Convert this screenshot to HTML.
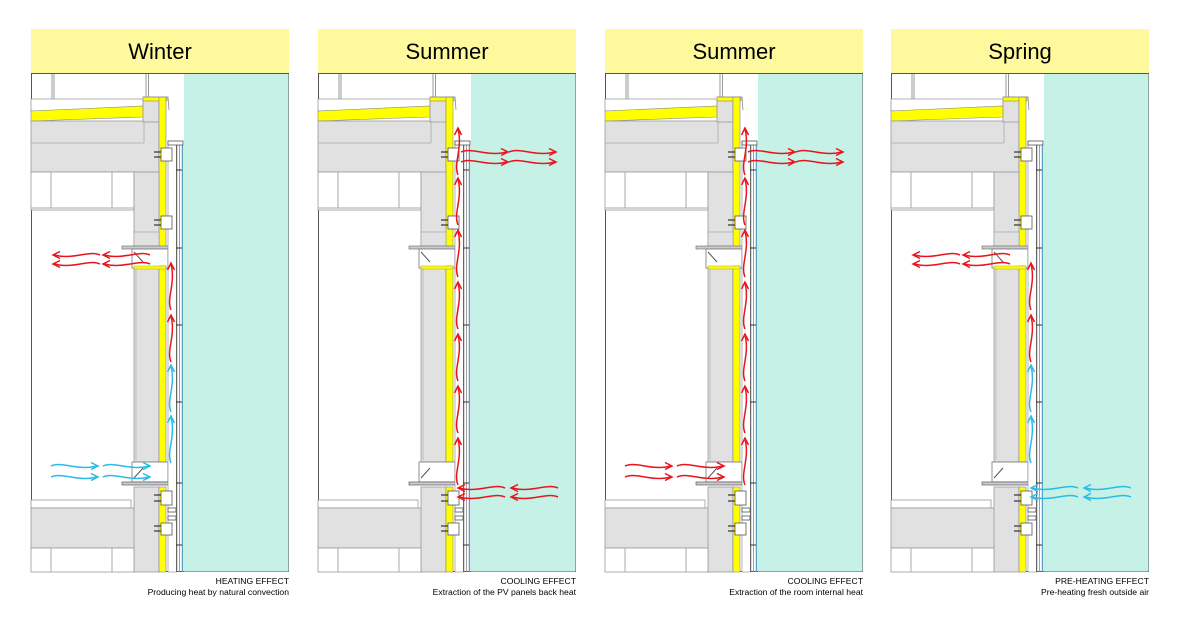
<!DOCTYPE html>
<html><head><meta charset="utf-8"><style>
body{margin:0;background:#fff;}
svg{display:block;}
text{font-family:"Liberation Sans",sans-serif;}
</style></head><body>
<svg width="1180" height="626" viewBox="0 0 1180 626" xmlns="http://www.w3.org/2000/svg">
<defs>
<g id="hr" fill="none" stroke="currentColor" stroke-width="1.5">
  <path d="M0 0 C12 -5 26 5 46 0"/>
  <path d="M40 -3.5 L47 0 L40 3.5"/>
</g>
<g id="base">
  <rect x="0" y="29" width="258" height="44" fill="#fdf99c"/>
  <rect x="0.5" y="73.5" width="257" height="498" fill="#fff" stroke="#555"/>
  <rect x="153" y="74" width="104.5" height="497.5" fill="#c6f1e6"/>
  <!-- top verticals -->
  <g stroke="#999" stroke-width="1">
    <line x1="21" y1="74" x2="21" y2="99"/><line x1="23" y1="74" x2="23" y2="99"/>
    <line x1="115" y1="74" x2="115" y2="97"/><line x1="117.5" y1="74" x2="117.5" y2="97"/>
  </g>
  <!-- roof -->
  <polygon points="0,99 112,99 112,108 0,111" fill="#fff" stroke="#999" stroke-width="0.8"/>
  <polygon points="0,111 112,106 112,117 0,121" fill="#ffff00" stroke="#888" stroke-width="0.6"/>
  <rect x="0" y="121" width="128" height="51" fill="#e1e1e1" stroke="#999" stroke-width="0.8"/>
  <rect x="112" y="100" width="16" height="22" fill="#e1e1e1" stroke="#999" stroke-width="0.8"/>
  <line x1="0" y1="143" x2="113" y2="143" stroke="#aaa" stroke-width="0.8"/>
  <line x1="113" y1="121" x2="113" y2="143" stroke="#aaa" stroke-width="0.8"/>
  <rect x="112" y="97" width="24" height="4" fill="#ffff00" stroke="#888" stroke-width="0.6"/>
  <rect x="128" y="97" width="7" height="150" fill="#ffff00" stroke="#888" stroke-width="0.6"/>
  <polyline points="112,97 137,97 138,110" fill="none" stroke="#888" stroke-width="0.8"/>
  <!-- window band -->
  <rect x="0" y="172" width="103" height="38" fill="#fff" stroke="#999" stroke-width="0.8"/>
  <line x1="20" y1="172" x2="20" y2="208" stroke="#aaa"/><line x1="81" y1="172" x2="81" y2="208" stroke="#aaa"/>
  <line x1="0" y1="208" x2="103" y2="208" stroke="#aaa"/>
  <rect x="103" y="172" width="25" height="74" fill="#e1e1e1" stroke="#999" stroke-width="0.8"/>
  <rect x="103" y="232" width="25" height="14" fill="#e1e1e1" stroke="#999" stroke-width="0.6"/>
  <!-- head box -->
  <rect x="91" y="246" width="54" height="3" fill="#ccc" stroke="#666" stroke-width="0.6"/>
  <rect x="101" y="249" width="36" height="19" fill="#fff" stroke="#777" stroke-width="0.8"/>
  <line x1="103" y1="252" x2="112" y2="262" stroke="#555"/>
  <!-- middle column -->
  <rect x="103" y="268" width="25" height="194" fill="#e1e1e1" stroke="#999" stroke-width="0.8"/>
  <line x1="105" y1="268" x2="105" y2="460" stroke="#aaa" stroke-width="0.6"/>
  <rect x="128" y="266" width="7" height="196" fill="#ffff00" stroke="#888" stroke-width="0.6"/>
  <rect x="103" y="266" width="32" height="3" fill="#ffff00" stroke="#888" stroke-width="0.4"/>
  <!-- sill box -->
  <rect x="101" y="462" width="36" height="20" fill="#fff" stroke="#777" stroke-width="0.8"/>
  <rect x="91" y="482" width="54" height="3" fill="#ccc" stroke="#445" stroke-width="0.6"/>
  <line x1="103" y1="478" x2="112" y2="468" stroke="#555"/>
  <!-- lower -->
  <rect x="0" y="500" width="100" height="8" fill="#fff" stroke="#999" stroke-width="0.8"/>
  <rect x="0" y="508" width="113" height="40" fill="#e1e1e1" stroke="#999" stroke-width="0.8"/>
  <rect x="103" y="487" width="25" height="85" fill="#e1e1e1" stroke="#999" stroke-width="0.8"/>
  <rect x="104" y="488" width="8" height="20" fill="#e1e1e1"/>
  <rect x="0" y="548" width="103" height="24" fill="#fff" stroke="#999" stroke-width="0.8"/>
  <line x1="20" y1="548" x2="20" y2="572" stroke="#aaa"/><line x1="81" y1="548" x2="81" y2="572" stroke="#aaa"/>
  <rect x="128" y="487" width="7" height="85" fill="#ffff00" stroke="#888" stroke-width="0.6"/>
  <!-- cladding -->
  <rect x="137" y="141" width="9" height="431" fill="#fff" stroke="#888" stroke-width="0.6"/>
  <line x1="145.5" y1="141" x2="145.5" y2="572" stroke="#666" stroke-width="1"/>
  <line x1="148.5" y1="141" x2="148.5" y2="572" stroke="#888" stroke-width="0.8"/>
  <line x1="151.5" y1="145" x2="151.5" y2="572" stroke="#5a9fc6" stroke-width="1.5"/>
  <rect x="137" y="141" width="15" height="4" fill="#fff" stroke="#555" stroke-width="0.8"/>
  <g stroke="#333" stroke-width="1">
    <line x1="145" y1="170" x2="151" y2="170"/><line x1="145" y1="248" x2="151" y2="248"/>
    <line x1="145" y1="325" x2="151" y2="325"/><line x1="145" y1="402" x2="151" y2="402"/>
    <line x1="145" y1="483" x2="151" y2="483"/><line x1="145" y1="545" x2="151" y2="545"/>
  </g>
  <!-- brackets -->
  <g stroke="#555" stroke-width="0.8" fill="#fff">
    <rect x="130" y="148" width="11" height="13"/><rect x="130" y="216" width="11" height="13"/>
    <rect x="130" y="491" width="11" height="14"/><rect x="130" y="523" width="11" height="12"/>
    <rect x="137" y="508" width="8" height="4"/><rect x="137" y="516" width="8" height="4"/>
  </g>
  <g stroke="#333" stroke-width="1.2">
    <line x1="123" y1="152" x2="130" y2="152"/><line x1="123" y1="157" x2="130" y2="157"/>
    <line x1="123" y1="220" x2="130" y2="220"/><line x1="123" y1="225" x2="130" y2="225"/>
    <line x1="123" y1="495" x2="130" y2="495"/><line x1="123" y1="501" x2="130" y2="501"/>
    <line x1="123" y1="526" x2="130" y2="526"/><line x1="123" y1="531" x2="130" y2="531"/>
  </g>
</g>
</defs>

<!-- Panels -->
<use href="#base" transform="translate(31,0)"/>
<use href="#base" transform="translate(318,0)"/>
<use href="#base" transform="translate(605,0)"/>
<use href="#base" transform="translate(891,0)"/>

<g font-size="22" text-anchor="middle" fill="#000">
  <text x="160" y="59">Winter</text>
  <text x="447" y="59">Summer</text>
  <text x="734" y="59">Summer</text>
  <text x="1020" y="59">Spring</text>
</g>
<g font-size="8.6" text-anchor="end" fill="#000">
  <text x="289" y="584">HEATING EFFECT</text><text x="289" y="595">Producing heat by natural convection</text>
  <text x="576" y="584">COOLING EFFECT</text><text x="576" y="595">Extraction of the PV panels back heat</text>
  <text x="863" y="584">COOLING EFFECT</text><text x="863" y="595">Extraction of the room internal heat</text>
  <text x="1149" y="584">PRE-HEATING EFFECT</text><text x="1149" y="595">Pre-heating fresh outside air</text>
</g>

<!-- Panel 1 arrows -->
<g transform="translate(31,0)">
  <g style="color:#e8161c">
    <use href="#hr" transform="translate(119,255) scale(-1,1)"/><use href="#hr" transform="translate(69,255) scale(-1,1)"/>
    <use href="#hr" transform="translate(119,264) scale(-1,1)"/><use href="#hr" transform="translate(69,264) scale(-1,1)"/>
    <use href="#hr" transform="translate(140,310) rotate(-90)"/><use href="#hr" transform="translate(140,362) rotate(-90)"/>
  </g>
  <g style="color:#2bbbe8">
    <use href="#hr" transform="translate(20,466)"/><use href="#hr" transform="translate(72,466)"/>
    <use href="#hr" transform="translate(20,477)"/><use href="#hr" transform="translate(72,477)"/>
    <use href="#hr" transform="translate(140,412) rotate(-90)"/><use href="#hr" transform="translate(140,463) rotate(-90)"/>
  </g>
</g>
<!-- Panel 2 -->
<g transform="translate(318,0)" style="color:#e8161c">
  <use href="#hr" transform="translate(143,152)"/><use href="#hr" transform="translate(191,152)"/>
  <use href="#hr" transform="translate(143,162)"/><use href="#hr" transform="translate(191,162)"/>
  <use href="#hr" transform="translate(240,488) scale(-1,1)"/><use href="#hr" transform="translate(187,488) scale(-1,1)"/>
  <use href="#hr" transform="translate(240,497) scale(-1,1)"/><use href="#hr" transform="translate(187,497) scale(-1,1)"/>
  <use href="#hr" transform="translate(140,485) rotate(-90)"/><use href="#hr" transform="translate(140,433) rotate(-90)"/>
  <use href="#hr" transform="translate(140,381) rotate(-90)"/><use href="#hr" transform="translate(140,329) rotate(-90)"/>
  <use href="#hr" transform="translate(140,277) rotate(-90)"/><use href="#hr" transform="translate(140,225) rotate(-90)"/>
  <use href="#hr" transform="translate(140,175) rotate(-90)"/>
</g>
<!-- Panel 3 -->
<g transform="translate(605,0)" style="color:#e8161c">
  <use href="#hr" transform="translate(143,152)"/><use href="#hr" transform="translate(191,152)"/>
  <use href="#hr" transform="translate(143,162)"/><use href="#hr" transform="translate(191,162)"/>
  <use href="#hr" transform="translate(20,466)"/><use href="#hr" transform="translate(72,466)"/>
  <use href="#hr" transform="translate(20,477)"/><use href="#hr" transform="translate(72,477)"/>
  <use href="#hr" transform="translate(140,485) rotate(-90)"/><use href="#hr" transform="translate(140,433) rotate(-90)"/>
  <use href="#hr" transform="translate(140,381) rotate(-90)"/><use href="#hr" transform="translate(140,329) rotate(-90)"/>
  <use href="#hr" transform="translate(140,277) rotate(-90)"/><use href="#hr" transform="translate(140,225) rotate(-90)"/>
  <use href="#hr" transform="translate(140,175) rotate(-90)"/>
</g>
<!-- Panel 4 -->
<g transform="translate(891,0)">
  <g style="color:#e8161c">
    <use href="#hr" transform="translate(119,255) scale(-1,1)"/><use href="#hr" transform="translate(69,255) scale(-1,1)"/>
    <use href="#hr" transform="translate(119,264) scale(-1,1)"/><use href="#hr" transform="translate(69,264) scale(-1,1)"/>
    <use href="#hr" transform="translate(140,310) rotate(-90)"/><use href="#hr" transform="translate(140,362) rotate(-90)"/>
  </g>
  <g style="color:#2bbbe8">
    <use href="#hr" transform="translate(240,488) scale(-1,1)"/><use href="#hr" transform="translate(187,488) scale(-1,1)"/>
    <use href="#hr" transform="translate(240,497) scale(-1,1)"/><use href="#hr" transform="translate(187,497) scale(-1,1)"/>
    <use href="#hr" transform="translate(140,412) rotate(-90)"/><use href="#hr" transform="translate(140,463) rotate(-90)"/>
  </g>
</g>
</svg>
</body></html>
